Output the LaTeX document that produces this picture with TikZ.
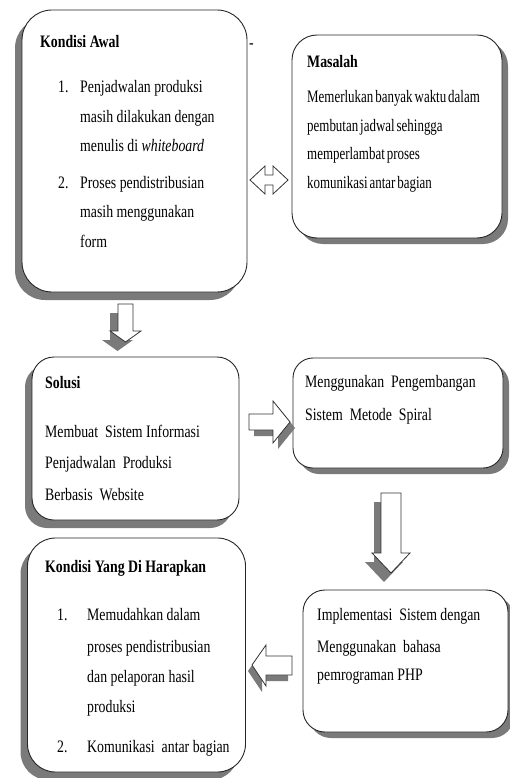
\documentclass[tikz,border=0pt]{standalone}
\usepackage{fontspec}
\setmainfont{Liberation Serif}[FakeStretch=0.79]
\newfontfamily\tightfont{Liberation Serif}[FakeStretch=0.74,WordSpace=0.6]
\usetikzlibrary{shadows}
\begin{document}
\begin{tikzpicture}[x=1pt,y=-1pt,
  box/.style={draw=black!85, line width=0.9pt, fill=white, inner sep=0pt},
  txt/.style={anchor=base west, inner sep=0pt, font=\fontsize{17.5}{20}\selectfont},
  ttl/.style={anchor=base west, inner sep=0pt, font=\fontsize{17.5}{20}\selectfont\bfseries},
  tgt/.style={anchor=base west, inner sep=0pt, font=\fontsize{17.5}{20}\selectfont\tightfont},
  blk/.style={draw=black!80, line width=0.8pt, fill=white, line join=miter},
  shd/.style={fill=black!52, draw=none},
  shL/.style={drop shadow={shadow xshift=-7pt, shadow yshift=-8pt, fill=black!52, opacity=1}},
  shR/.style={drop shadow={shadow xshift=6pt, shadow yshift=-6pt, fill=black!52, opacity=1}},
]
\useasboundingbox (0,0) rectangle (509,778);

% boxes
\node[box, shL, rounded corners=30pt, minimum width=225pt, minimum height=282pt] (awal) at (134.5,151) {};
\node[box, shR, rounded corners=25pt, minimum width=210pt, minimum height=203pt] (masalah) at (397,136.5) {};
\node[box, shL, rounded corners=22pt, minimum width=207pt, minimum height=163pt] (solusi) at (135.5,438.5) {};
\node[box, shR, rounded corners=20pt, minimum width=210pt, minimum height=110pt] (spiral) at (398,413) {};
\node[box, shR, rounded corners=22pt, minimum width=205pt, minimum height=142pt] (impl) at (405.5,661) {};
\node[box, shL, rounded corners=28pt, minimum width=218pt, minimum height=234pt] (harap) at (136.5,655) {};

% box 1 text
\node[ttl] (a0) at (40,48) {Kondisi Awal};
\node[txt] (dash) at (249,49) {-};
\node[txt] (a1n) at (58,93) {1.};
\node[txt] (a1) at (80,93) {Penjadwalan produksi};
\node[txt] (a2) at (80,123) {masih dilakukan dengan};
\node[txt] (a3) at (80,152) {menulis di \textit{whiteboard}};
\node[txt] (a4n) at (58,188) {2.};
\node[txt] (a4) at (80,188) {Proses pendistribusian};
\node[txt] (a5) at (80,217) {masih menggunakan};
\node[txt] (a6) at (80,247) {form};

% box 2 text
\node[ttl] (m0) at (307,68) {Masalah};
\node[tgt] (m1) at (307,103) {Memerlukan banyak waktu dalam};
\node[tgt] (m2) at (307,132) {pembutan jadwal sehingga};
\node[tgt] (m3) at (307,160) {memperlambat proses};
\node[tgt] (m4) at (307,188) {komunikasi antar bagian};

% box 3 text
\node[ttl] (s0) at (45,388) {Solusi};
\node[txt] (s1) at (45,437) {Membuat\ \ Sistem Informasi};
\node[txt] (s2) at (45,468) {Penjadwalan\ \ Produksi};
\node[txt] (s3) at (45,500) {Berbasis\ \ Website};

% box 4 text
\node[txt] (p1) at (305,387) {Menggunakan\ \ Pengembangan};
\node[txt] (p2) at (305,420) {Sistem\ \ Metode\ \ Spiral};

% box 5 text
\node[txt] (i1) at (317,620) {Implementasi\ \ Sistem dengan};
\node[txt] (i2) at (317,652) {Menggunakan\ \ bahasa};
\node[txt] (i3) at (317,680) {pemrograman PHP};

% box 6 text
\node[ttl] (h0) at (45,572) {Kondisi Yang Di Harapkan};
\node[txt] (h1n) at (57,620) {1.};
\node[txt] (h1) at (87,620) {Memudahkan dalam};
\node[txt] (h2) at (87,652) {proses pendistribusian};
\node[txt] (h3) at (87,682) {dan pelaporan hasil};
\node[txt] (h4) at (87,712) {produksi};
\node[txt] (h5n) at (57,752) {2.};
\node[txt] (h5) at (87,752) {Komunikasi\ \ antar bagian};

% double arrow between awal and masalah
\draw[blk] (250,180) -- (265,166) -- (265,175) -- (273,175) -- (273,166) -- (288,180)
  -- (273,194) -- (273,185) -- (265,185) -- (265,194) -- cycle;

% down arrow awal -> solusi
\fill[shd, shift={(-8,9)}] (118,304) -- (133,304) -- (133,331) -- (141,331) -- (125.5,342) -- (110,331) -- (118,331) -- cycle;
\draw[blk] (118,304) -- (133,304) -- (133,331) -- (141,331) -- (125.5,342) -- (110,331) -- (118,331) -- cycle;

% right arrow solusi -> spiral
\fill[shd, shift={(5,6)}] (249,414) -- (273,414) -- (273,401) -- (290,422) -- (273,443) -- (273,430) -- (249,430) -- cycle;
\draw[blk] (249,414) -- (273,414) -- (273,401) -- (290,422) -- (273,443) -- (273,430) -- (249,430) -- cycle;

% down arrow spiral -> impl
\fill[shd, shift={(-7,9)}] (381,493) -- (401,493) -- (401,553) -- (410,553) -- (391,573) -- (372,553) -- (381,553) -- cycle;
\draw[blk] (381,493) -- (401,493) -- (401,553) -- (410,553) -- (391,573) -- (372,553) -- (381,553) -- cycle;

% left arrow impl -> harap
\fill[shd, shift={(-4,6)}] (252,665) -- (266,645) -- (266,656) -- (292,656) -- (292,675) -- (266,675) -- (266,686) -- cycle;
\draw[blk] (252,665) -- (266,645) -- (266,656) -- (292,656) -- (292,675) -- (266,675) -- (266,686) -- cycle;
\end{tikzpicture}
\end{document}
